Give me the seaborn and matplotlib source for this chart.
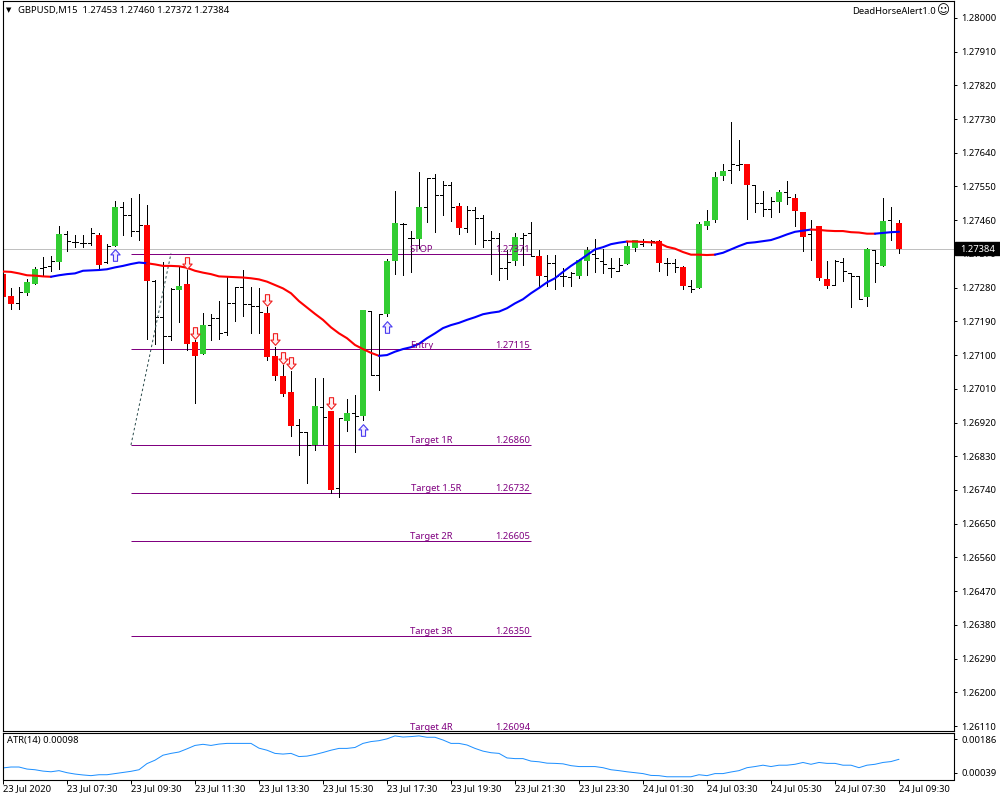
import matplotlib
matplotlib.use("Agg")
import matplotlib.pyplot as plt
from matplotlib.patches import Rectangle
from matplotlib.path import Path
from matplotlib.transforms import blended_transform_factory
import seaborn as sns

# OHLC of the M15 bars
open_ = [1.27317,1.27258,1.27238,1.27267,1.27291,1.27332,1.27338,1.27349,1.27423,1.27401,
         1.27399,1.27400,1.27421,1.27348,1.27391,1.27496,1.27474,1.27430,1.27447,1.27299,
         1.27201,1.27151,1.27275,1.27290,1.27135,1.27104,1.27180,1.27199,1.27162,1.27240,
         1.27283,1.27236,1.27231,1.27212,1.27098,1.27044,1.27002,1.26913,1.26896,1.26860,
         1.26962,1.26951,1.26745,1.26925,1.26946,1.26938,1.27218,1.27048,1.27210,1.27352,
         1.27450,1.27412,1.27410,1.27496,1.27572,1.27527,1.27554,1.27498,1.27439,1.27486,
         1.27465,1.27407,1.27413,1.27332,1.27352,1.27412,1.27427,1.27365,1.27311,1.27347,
         1.27311,1.27308,1.27311,1.27351,1.27369,1.27351,1.27332,1.27325,1.27343,1.27387,
         1.27396,1.27401,1.27405,1.27345,1.27345,1.27335,1.27285,1.27280,1.27445,1.27461,
         1.27579,1.27594,1.27608,1.27610,1.27553,1.27505,1.27489,1.27509,1.27536,1.27519,
         1.27482,1.27423,1.27445,1.27303,1.27287,1.27348,1.27318,1.27312,1.27256,1.27381,
         1.27339,1.27461,1.27453]
high = [1.27319,1.27278,1.27281,1.27302,1.27334,1.27363,1.27365,1.27445,1.27431,1.27420,
        1.27420,1.27439,1.27427,1.27397,1.27511,1.27509,1.27519,1.27530,1.27501,1.27300,
        1.27349,1.27278,1.27334,1.27327,1.27140,1.27213,1.27210,1.27244,1.27308,1.27283,
        1.27327,1.27283,1.27279,1.27229,1.27122,1.27074,1.27058,1.26929,1.26896,1.27038,
        1.27038,1.26951,1.26931,1.26982,1.26994,1.27220,1.27218,1.27210,1.27356,1.27538,
        1.27452,1.27431,1.27588,1.27572,1.27582,1.27565,1.27561,1.27505,1.27498,1.27494,
        1.27474,1.27432,1.27425,1.27381,1.27425,1.27425,1.27455,1.27381,1.27367,1.27367,
        1.27332,1.27321,1.27357,1.27388,1.27410,1.27382,1.27358,1.27360,1.27402,1.27407,
        1.27410,1.27407,1.27407,1.27358,1.27356,1.27338,1.27300,1.27455,1.27487,1.27589,
        1.27610,1.27722,1.27674,1.27610,1.27553,1.27538,1.27523,1.27541,1.27565,1.27530,
        1.27482,1.27461,1.27445,1.27351,1.27354,1.27358,1.27318,1.27312,1.27385,1.27381,
        1.27519,1.27495,1.27460]
low = [1.27247,1.27224,1.27224,1.27260,1.27291,1.27313,1.27325,1.27331,1.27379,1.27388,
       1.27388,1.27395,1.27329,1.27347,1.27391,1.27421,1.27418,1.27407,1.27144,1.27130,
       1.27080,1.27140,1.27188,1.27114,1.26973,1.27104,1.27140,1.27144,1.27154,1.27191,
       1.27204,1.27158,1.27159,1.27087,1.27034,1.26991,1.26885,1.26832,1.26758,1.26847,
       1.26863,1.26733,1.26720,1.26898,1.26840,1.26927,1.27048,1.27007,1.27204,1.27316,
       1.27315,1.27323,1.27385,1.27454,1.27428,1.27475,1.27459,1.27423,1.27428,1.27397,
       1.27388,1.27317,1.27300,1.27303,1.27341,1.27341,1.27365,1.27283,1.27285,1.27276,
       1.27285,1.27285,1.27306,1.27314,1.27323,1.27320,1.27309,1.27325,1.27343,1.27379,
       1.27391,1.27394,1.27325,1.27314,1.27323,1.27276,1.27269,1.27280,1.27437,1.27455,
       1.27568,1.27560,1.27594,1.27464,1.27481,1.27470,1.27468,1.27483,1.27503,1.27445,
       1.27378,1.27354,1.27300,1.27280,1.27287,1.27298,1.27229,1.27249,1.27232,1.27296,
       1.27339,1.27407,1.27372]
close = [1.27256,1.27235,1.27268,1.27295,1.27330,1.27334,1.27352,1.27423,1.27404,1.27401,
         1.27399,1.27425,1.27341,1.27391,1.27495,1.27473,1.27431,1.27447,1.27299,1.27201,
         1.27151,1.27276,1.27284,1.27130,1.27098,1.27180,1.27198,1.27160,1.27240,1.27283,
         1.27236,1.27232,1.27215,1.27094,1.27045,1.26996,1.26911,1.26896,1.26861,1.26964,
         1.26936,1.26740,1.26931,1.26946,1.26938,1.27220,1.27048,1.27210,1.27351,1.27453,
         1.27450,1.27412,1.27495,1.27572,1.27527,1.27554,1.27496,1.27440,1.27487,1.27465,
         1.27407,1.27412,1.27332,1.27349,1.27415,1.27421,1.27365,1.27311,1.27347,1.27311,
         1.27311,1.27320,1.27354,1.27381,1.27358,1.27342,1.27332,1.27341,1.27391,1.27407,
         1.27401,1.27405,1.27347,1.27345,1.27334,1.27285,1.27276,1.27450,1.27458,1.27576,
         1.27592,1.27610,1.27609,1.27555,1.27505,1.27491,1.27511,1.27535,1.27521,1.27485,
         1.27415,1.27436,1.27307,1.27285,1.27351,1.27325,1.27312,1.27250,1.27383,1.27345,
         1.27458,1.27429,1.27384]

# bars the chart draws with a solid body, the rest are plain OHLC bars
filled_bars = [0,1,3,4,7,12,14,18,22,23,24,25,33,34,35,36,39,41,43,45,48,49,52,57,64,67,
               72,73,78,79,82,85,87,88,89,90,93,97,99,100,102,103,108,110,112]

moving_avg = [1.27323,1.27322,1.27318,1.27313,1.27312,1.27310,1.27309,1.27313,1.27316,1.27318,
              1.27325,1.27326,1.27327,1.27329,1.27334,1.27338,1.27343,1.27347,1.27345,1.27342,
              1.27338,1.27338,1.27337,1.27333,1.27325,1.27320,1.27316,1.27310,1.27309,1.27308,
              1.27307,1.27305,1.27302,1.27296,1.27287,1.27278,1.27265,1.27244,1.27227,1.27210,
              1.27194,1.27174,1.27158,1.27145,1.27127,1.27116,1.27106,1.27098,1.27100,1.27109,
              1.27116,1.27121,1.27130,1.27145,1.27158,1.27172,1.27180,1.27186,1.27194,1.27201,
              1.27209,1.27213,1.27216,1.27225,1.27238,1.27249,1.27265,1.27279,1.27294,1.27305,
              1.27322,1.27338,1.27352,1.27367,1.27382,1.27388,1.27396,1.27400,1.27403,1.27403,
              1.27402,1.27401,1.27399,1.27389,1.27384,1.27375,1.27368,1.27368,1.27367,1.27368,
              1.27373,1.27382,1.27391,1.27399,1.27401,1.27404,1.27407,1.27414,1.27422,1.27429,
              1.27432,1.27435,1.27434,1.27432,1.27431,1.27431,1.27428,1.27427,1.27424,1.27424,
              1.27426,1.27428,1.27429]
# where the moving average changes colour
ma_segments = [(0, 6, "red"), (6, 18, "blue"), (18, 47, "red"), (47, 78, "blue"),
               (78, 89, "red"), (89, 101, "blue"), (101, 109, "red"), (109, 112, "blue")]

atr = [.00060,.00064,.00064,.00055,.00052,.00046,.00043,.00048,.00039,.00033,
       .00029,.00026,.00030,.00030,.00035,.00040,.00045,.00052,.00079,.00094,
       .00116,.00124,.00130,.00144,.00159,.00164,.00159,.00165,.00168,.00168,
       .00168,.00168,.00147,.00138,.00124,.00121,.00124,.00110,.00112,.00119,
       .00128,.00138,.00146,.00146,.00150,.00168,.00176,.00180,.00188,.00201,
       .00196,.00198,.00201,.00195,.00195,.00183,.00168,.00168,.00161,.00146,
       .00134,.00127,.00124,.00104,.00101,.00101,.00090,.00087,.00081,.00080,
       .00078,.00070,.00066,.00066,.00066,.00061,.00052,.00048,.00043,.00039,
       .00035,.00027,.00026,.00021,.00021,.00021,.00021,.00030,.00026,.00035,
       .00035,.00042,.00048,.00061,.00066,.00072,.00066,.00072,.00072,.00076,
       .00084,.00076,.00084,.00080,.00080,.00072,.00072,.00061,.00072,.00076,
       .00084,.00088,.00098]

# alert arrows
up_bars = [14, 45, 48]
up_prices = [1.27366, 1.26899, 1.27176]
down_bars = [23, 24, 33, 34, 35, 36, 41]
down_prices = [1.27346, 1.27160, 1.27248, 1.27142, 1.27091, 1.27078, 1.26971]

# trade levels
level_names = ["STOP", "Entry", "Target 1R", "Target 1.5R", "Target 2R", "Target 3R", "Target 4R"]
level_prices = [1.27371, 1.27115, 1.26860, 1.26732, 1.26605, 1.26350, 1.26094]
level_start, level_end = 16, 66
trend_x = [16, 21]
trend_y = [1.26860, 1.27371]

last_price = 1.27384
price_ticks = [1.28000,1.27910,1.27820,1.27730,1.27640,1.27550,1.27460,1.27370,1.27280,1.27190,
               1.27100,1.27010,1.26920,1.26830,1.26740,1.26650,1.26560,1.26470,1.26380,1.26290,
               1.26200,1.26110]
atr_ticks = [0.00186, 0.00039]
time_ticks = list(range(0, 113, 8))
time_labels = ["23 Jul 2020","23 Jul 07:30","23 Jul 09:30","23 Jul 11:30","23 Jul 13:30",
               "23 Jul 15:30","23 Jul 17:30","23 Jul 19:30","23 Jul 21:30","23 Jul 23:30",
               "24 Jul 01:30","24 Jul 03:30","24 Jul 05:30","24 Jul 07:30","24 Jul 09:30"]

sns.set_theme(style="white")
FONT = ["Noto Sans", "DejaVu Sans"]
FS = 6.8
plt.rcParams["font.family"] = FONT
plt.rcParams["axes.edgecolor"] = "black"
plt.rcParams["axes.linewidth"] = 0.8
PX = 0.72  # one pixel in points

bars = list(range(len(close)))
fig = plt.figure(figsize=(10, 8), dpi=100, facecolor="white")
ax = fig.add_axes([2.5 / 1000, 1 - 730.5 / 800, 952 / 1000, 729.5 / 800])
ax_atr = fig.add_axes([2.5 / 1000, 1 - 779.5 / 800, 952 / 1000, 47 / 800])

# level lines and last price
ax.axhline(last_price, color="#c0c0c0", lw=PX, zorder=1)
ax.hlines(level_prices, level_start, level_end, color="#800080", lw=PX, zorder=1.5)

# bars
ax.vlines(bars, low, high, color="black", lw=PX, zorder=2, antialiased=False)
plain = [b for b in bars if b not in filled_bars]
ax.hlines([open_[b] for b in plain], [b - 0.36 for b in plain], plain, color="black", lw=PX, zorder=2, antialiased=False)
ax.hlines([close[b] for b in plain], plain, [b + 0.36 for b in plain], color="black", lw=PX, zorder=2, antialiased=False)
for b in filled_bars:
    color = "#32cd32" if close[b] >= open_[b] else "red"
    ax.bar(b, abs(close[b] - open_[b]), bottom=min(open_[b], close[b]), width=0.68,
           color=color, linewidth=0, antialiased=False, zorder=2.5)

# dotted trend line
sns.lineplot(x=trend_x, y=trend_y, ax=ax, color="#2f4f4f", lw=PX, linestyle=(0, (2.5, 2.5)), zorder=3)

# moving average, coloured by direction
for start, end, color in ma_segments:
    sns.lineplot(x=bars[start:end + 1], y=moving_avg[start:end + 1], ax=ax, color=color,
                 lw=1.5, zorder=4, estimator=None, sort=False)

# arrows
up_arrow = Path([(0, 1), (.8, .1), (.35, .1), (.35, -1), (-.35, -1), (-.35, .1), (-.8, .1), (0, 1)], closed=True)
down_arrow = Path([(0, -1), (.8, -.1), (.35, -.1), (.35, 1), (-.35, 1), (-.35, -.1), (-.8, -.1), (0, -1)], closed=True)
sns.scatterplot(x=up_bars, y=up_prices, ax=ax, marker=up_arrow, s=70, color="#f0eaff",
                edgecolor="#4a3cf0", linewidth=0.8, zorder=5, legend=False)
sns.scatterplot(x=down_bars, y=down_prices, ax=ax, marker=down_arrow, s=70, color="#ffeef0",
                edgecolor="#f02020", linewidth=0.8, zorder=5, legend=False)

# level labels
for name, price in zip(level_names, level_prices):
    name_x = 52.3 if name in ("STOP", "Entry") else 53.5
    if name == "Target 1.5R":
        name_x = 54.2
    ax.annotate(name, (name_x, price), xytext=(0, -0.3), textcoords="offset points", ha="center", va="bottom",
                color="#800080", fontsize=FS, zorder=6, annotation_clip=False)
    ax.annotate(f"{price:.5f}", (level_end - 0.1, price), xytext=(0, -0.3), textcoords="offset points",
                ha="right", va="bottom", color="#800080", fontsize=FS, zorder=6, annotation_clip=False)

ax.set_xlim(-0.06, 118.94)
ax.set_ylim(1.26098, 1.28045)
ax.set_xticks([])
ax.yaxis.tick_right()
ax.set_yticks(price_ticks, [f"{p:.5f}" for p in price_ticks])
ax.tick_params(axis="y", length=2.5, width=PX, pad=2.5, labelsize=FS, colors="black", right=True)

# last price tag
tag_trans = blended_transform_factory(ax.transAxes, ax.transData)
ax.add_patch(Rectangle((1.0005, last_price - 0.00017), 0.05, 0.00034, transform=tag_trans,
                       color="black", clip_on=False, zorder=7))
ax.text(1.0055, last_price, f"{last_price:.5f}", transform=tag_trans, color="white", fontsize=FS,
        ha="left", va="center_baseline", clip_on=False, zorder=8)

# ATR pane
sns.lineplot(x=bars, y=atr, ax=ax_atr, color="#1e90ff", lw=PX, estimator=None)
ax_atr.set_xlim(-0.06, 118.94)
ax_atr.set_ylim(0.00009, 0.00216)
ax_atr.yaxis.tick_right()
ax_atr.set_yticks(atr_ticks, [f"{t:.5f}" for t in atr_ticks])
ax_atr.tick_params(axis="y", length=2.5, width=PX, pad=2.5, labelsize=FS, colors="black", right=True)
ax_atr.set_xticks(time_ticks, time_labels)
ax_atr.tick_params(axis="x", length=3, width=PX, pad=0.5, labelsize=FS, colors="black", bottom=True)
for lab in ax_atr.get_xticklabels():
    lab.set_ha("left")

# chart captions
fig.text(6 / 1000, 1 - 10 / 800, "\u25bc", fontsize=5, color="black", va="center", family="DejaVu Sans")
fig.text(18 / 1000, 1 - 10 / 800, "GBPUSD,M15  1.27453 1.27460 1.27372 1.27384", fontsize=FS, color="black", va="center")
fig.text(936 / 1000, 1 - 11 / 800, "DeadHorseAlert1.0", fontsize=FS, color="black", va="center", ha="right")
fig.text(937 / 1000, 1 - 11 / 800, "\u263a", fontsize=9, color="black", va="center", ha="left", family="DejaVu Sans")
fig.text(7 / 1000, 1 - 741 / 800, "ATR(14) 0.00098", fontsize=FS, color="black", va="center")

fig.savefig("out.png", dpi=100, facecolor="white")
